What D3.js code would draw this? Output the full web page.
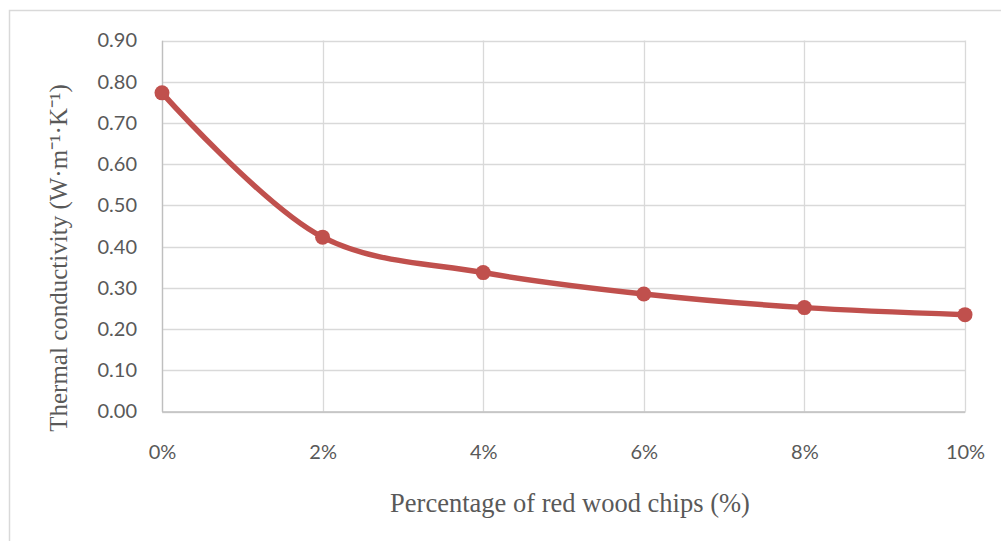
<!DOCTYPE html>
<html>
<head>
<meta charset="utf-8">
<script src="https://cdn.jsdelivr.net/npm/d3@7"></script>
<style>
  html, body { margin: 0; padding: 0; background: #fff; }
  svg { display: block; }
</style>
</head>
<body>
<svg id="chart" width="1001" height="541"></svg>
<script>
// Thermal conductivity vs. red wood chip content
const categories = ["0%", "2%", "4%", "6%", "8%", "10%"];
const conductivity = [0.773, 0.423, 0.337, 0.285, 0.252, 0.235];
const yTicks = [0, 0.1, 0.2, 0.3, 0.4, 0.5, 0.6, 0.7, 0.8, 0.9];

const svg = d3.select("#chart");
const W = 1001, H = 541;
const plot = { left: 162, right: 965, top: 40.5, bottom: 411.5 };
const tickFont = "Lato, 'Open Sans', sans-serif";
const titleFont = "'Liberation Serif', 'Times New Roman', serif";

// outer chart frame (extends past the right/bottom edges)
svg.append("rect")
  .attr("x", 9.5).attr("y", 10.5)
  .attr("width", W + 20).attr("height", H + 20)
  .attr("fill", "#fff").attr("stroke", "#d9d9d9").attr("stroke-width", 1.5);

const x = d3.scalePoint().domain(categories).range([plot.left, plot.right]);
const y = d3.scaleLinear().domain([0, 0.9]).range([plot.bottom, plot.top]);

// horizontal gridlines
svg.append("g").selectAll("line").data(yTicks).join("line")
  .attr("x1", plot.left).attr("x2", plot.right)
  .attr("y1", d => Math.round(y(d)) + 0.5).attr("y2", d => Math.round(y(d)) + 0.5)
  .attr("stroke", "#d9d9d9").attr("stroke-width", 1.3);

// vertical gridlines
svg.append("g").selectAll("line").data(categories).join("line")
  .attr("x1", d => Math.round(x(d)) + 0.5).attr("x2", d => Math.round(x(d)) + 0.5)
  .attr("y1", plot.top).attr("y2", plot.bottom)
  .attr("stroke", "#d9d9d9").attr("stroke-width", 1.3);

// axes
const yAxis = d3.axisLeft(y).tickValues(yTicks).tickFormat(d3.format(".2f")).tickSize(0).tickPadding(25);
const gy = svg.append("g").attr("transform", `translate(${plot.left},0)`).call(yAxis);
gy.select(".domain").attr("stroke", "#bfbfbf").attr("stroke-width", 1.3);
gy.selectAll("text").attr("fill", "#595959").attr("font-size", 20)
  .attr("font-family", tickFont);

const xAxis = d3.axisBottom(x).tickSize(0).tickPadding(33);
const gx = svg.append("g").attr("transform", `translate(0,${plot.bottom})`).call(xAxis);
gx.select(".domain").attr("stroke", "#bfbfbf").attr("stroke-width", 1.3);
gx.selectAll("text").attr("fill", "#595959").attr("font-size", 20)
  .attr("font-family", tickFont);

// smoothed series line
const pts = categories.map((c, i) => [x(c), y(conductivity[i])]);
const line = d3.line().curve(d3.curveCatmullRom.alpha(0.5));
svg.append("path").attr("d", line(pts))
  .attr("fill", "none").attr("stroke", "#c0504d").attr("stroke-width", 5.5)
  .attr("stroke-linecap", "round").attr("stroke-linejoin", "round");

// markers
svg.append("g").selectAll("circle").data(pts).join("circle")
  .attr("cx", d => d[0]).attr("cy", d => d[1]).attr("r", 7.5)
  .attr("fill", "#c0504d");

// axis titles
svg.append("text")
  .attr("x", 570).attr("y", 512)
  .attr("text-anchor", "middle")
  .attr("font-family", titleFont)
  .attr("font-size", 26.5).attr("fill", "#595959")
  .text("Percentage of red wood chips (%)");

svg.append("text")
  .attr("transform", "translate(67,258) rotate(-90)")
  .attr("text-anchor", "middle")
  .attr("font-family", titleFont)
  .attr("font-size", 25).attr("fill", "#595959")
  .text("Thermal conductivity (W·m⁻¹·K⁻¹)");
</script>
</body>
</html>
